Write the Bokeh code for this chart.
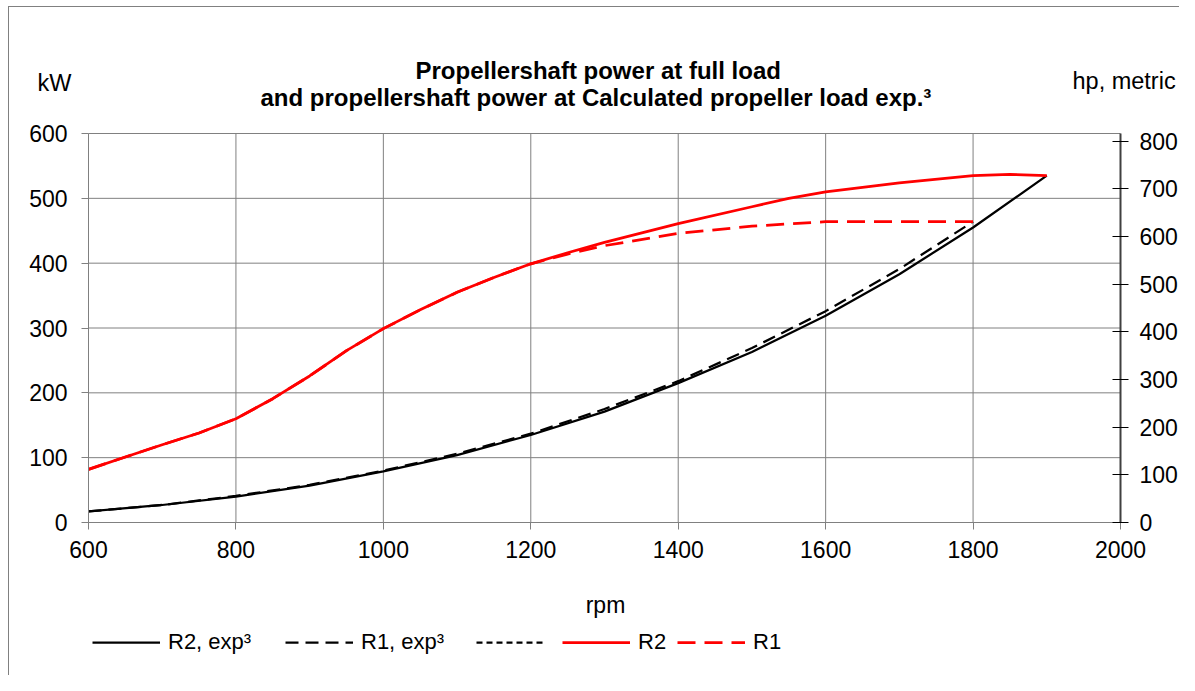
from bokeh.plotting import figure
from bokeh.models import Range1d, LinearAxis, Legend, LegendItem, Title, Label, FixedTicker
from bokeh.embed import file_html
from bokeh.resources import INLINE

# ---------------- data ----------------
rpm_r2_exp = [600, 700, 800, 900, 1000, 1100, 1200, 1300, 1400, 1500, 1600, 1700, 1800, 1900]
kw_r2_exp = [17, 27, 40, 57, 79, 104, 135, 171, 215, 263, 319, 383, 455, 535]

rpm_r1_exp = [600, 700, 800, 900, 1000, 1100, 1200, 1300, 1400, 1500, 1600, 1700, 1800]
kw_r1_exp = [17, 27, 41, 58, 80, 106, 137, 175, 218, 269, 326, 391, 464]

dotted_rpm = [600]
dotted_kw = [17]

rpm_r2 = [600, 650, 700, 750, 800, 850, 900, 950, 1000, 1050, 1100, 1150, 1200, 1250,
          1300, 1400, 1500, 1550, 1600, 1700, 1800, 1850, 1900]
kw_r2 = [82, 101, 120, 138, 160, 191, 226, 265, 299, 328, 355, 378, 399, 416,
         432, 461, 487, 500, 510, 524, 535, 537, 535]

rpm_r1 = [600, 650, 700, 750, 800, 850, 900, 950, 1000, 1050, 1100, 1150, 1200, 1250,
          1300, 1400, 1500, 1600, 1700, 1800]
kw_r1 = [82, 101, 120, 138, 160, 191, 226, 265, 299, 328, 355, 378, 399, 414,
         427, 446, 457, 464, 464, 464]

x_ticks = [600, 800, 1000, 1200, 1400, 1600, 1800, 2000]
kw_ticks = [0, 100, 200, 300, 400, 500, 600]
hp_ticks = [0, 100, 200, 300, 400, 500, 600, 700, 800]
KW_PER_HP = 0.73549875

title_1 = "Propellershaft power at full load"
title_2 = "and propellershaft power at Calculated propeller load exp.³"
unit_left = "kW"
unit_right = "hp, metric"
x_title = "rpm"
legend_labels = ["R2, exp³", "R1, exp³", " ", "R2", "R1"]

FONT = "Liberation Sans"

# ---------------- layout geometry (canvas pixels) ----------------
W, H = 1179, 675
AX_LEFT, AX_RIGHT, AX_TOP, AX_ZERO = 88, 1120, 133, 522   # pixel spots of 600 rpm, 2000 rpm, 600 kW, 0 kW
FRAME_TOP = 115
X_MIN, X_MAX = x_ticks[0], x_ticks[-1]
KW_MAX = kw_ticks[-1]
PX_PER_X = (AX_RIGHT - AX_LEFT) / (X_MAX - X_MIN)
PX_PER_KW = (AX_ZERO - AX_TOP) / KW_MAX

def px_x(px):
    return X_MIN + (px - AX_LEFT) / PX_PER_X

def px_y(py):
    return (AX_ZERO - py) / PX_PER_KW

y_lo, y_hi = px_y(H), px_y(FRAME_TOP)

p = figure(width=W, height=H, output_backend="svg", toolbar_location=None,
           x_range=Range1d(px_x(0), px_x(W)), y_range=Range1d(y_lo, y_hi),
           min_border_left=0, min_border_right=0,
           min_border_top=FRAME_TOP, min_border_bottom=0)
p.styles = {"background": "linear-gradient(#808080, #808080) 8px 6px / 1px 100% no-repeat, "
                          "linear-gradient(#808080, #808080) 8px 6px / 100% 1px no-repeat, #ffffff"}
p.extra_y_ranges = {"hp": Range1d(y_lo / KW_PER_HP, y_hi / KW_PER_HP)}
p.background_fill_color = None
p.border_fill_color = None
p.outline_line_color = None
p.xgrid.visible = False
p.ygrid.visible = False

# grid lines limited to the chart area
inner_x = x_ticks[1:-1]
p.segment(x0=inner_x, y0=[kw_ticks[0]] * len(inner_x), x1=inner_x, y1=[kw_ticks[-1]] * len(inner_x),
          line_color="#808080", line_width=1, level="underlay")
p.segment(x0=[X_MIN] * len(kw_ticks), y0=kw_ticks, x1=[X_MAX] * len(kw_ticks), y1=kw_ticks,
          line_color="#808080", line_width=1, level="underlay")

# bottom axis (fixed at 0 kW)
xa = p.xaxis[0]
xa.ticker = FixedTicker(ticks=x_ticks)
xa.fixed_location = 0
xa.bounds = (X_MIN, X_MAX)
xa.major_label_standoff = 11

# left axis (fixed at 600 rpm)
ya = p.yaxis[0]
ya.ticker = FixedTicker(ticks=kw_ticks)
ya.fixed_location = X_MIN
ya.bounds = (kw_ticks[0], kw_ticks[-1])
ya.major_label_standoff = 14

for ax in (xa, ya):
    ax.axis_line_color = "#808080"
    ax.major_tick_line_color = "#808080"
    ax.major_tick_out = 7
    ax.major_tick_in = 0
    ax.minor_tick_line_color = None
    ax.major_label_text_font = FONT
    ax.major_label_text_font_size = "23px"
    ax.major_label_text_color = "black"

# right axis (hp, metric), fixed at 2000 rpm
ra = LinearAxis(y_range_name="hp", ticker=FixedTicker(ticks=hp_ticks),
                fixed_location=X_MAX, bounds=(0, KW_MAX / KW_PER_HP))
ra.axis_line_color = "#404040"
ra.axis_line_width = 2
ra.major_tick_line_color = "black"
ra.major_tick_in = 8
ra.major_tick_out = 8
ra.minor_tick_line_color = None
ra.major_label_standoff = 11
ra.major_label_text_font = FONT
ra.major_label_text_font_size = "23px"
ra.major_label_text_color = "black"
p.add_layout(ra, "right")

# series
r_black = p.line(rpm_r2_exp, kw_r2_exp, line_color="black", line_width=2.25)
r_black_d = p.line(rpm_r1_exp, kw_r1_exp, line_color="black", line_width=2.25, line_dash="13 7")
r_dot = p.line(dotted_rpm, dotted_kw, line_color="black", line_width=2.25, line_dash="6 4")
r_red = p.line(rpm_r2, kw_r2, line_color="#ff0000", line_width=2.75)
r_red_d = p.line(rpm_r1, kw_r1, line_color="#ff0000", line_width=2.75, line_dash="18 9")

# x-axis title
p.add_layout(Label(x=px_x(605), y=px_y(604), text=x_title, text_align="center",
                   text_baseline="alphabetic", text_font=FONT, text_font_size="23px",
                   text_color="black"))

# legend entries (one small legend per entry, inside the frame's lower strip)
LEG_Y = 642
for rend, lab, gx in zip([r_black, r_black_d, r_dot, r_red, r_red_d], legend_labels,
                         [92, 285, 476, 562, 677]):
    lg = Legend(items=[LegendItem(label=lab, renderers=[rend])],
                location=(gx, H - LEG_Y - 13), orientation="horizontal",
                padding=0, margin=0, spacing=0,
                border_line_alpha=0, background_fill_alpha=0,
                glyph_width=68, glyph_height=26, label_standoff=8,
                label_text_font=FONT, label_text_font_size="22px",
                label_text_color="black", label_width=0, label_height=26)
    p.add_layout(lg, "center")

# ---- header rows (stacked upward from the plot frame) ----
def header(text, offset, standoff, size="24px", style="bold"):
    t = Title(text=text, align="left", offset=offset, standoff=standoff,
              vertical_align="bottom", text_font=FONT, text_font_size=size,
              text_font_style=style, text_color="black")
    p.add_layout(t, "above")

header(" ", 0, -11, size="12px", style="normal")            # spacer under the title
header(title_2, 260, -1)                                     # second title line
header(unit_left, 37, -26, size="23.5px", style="normal")
header(unit_right, 1072, -26, size="23.5px", style="normal")
header(title_1, 415, -11)                                    # first title line

open("out.html", "w").write(file_html(p, INLINE))
